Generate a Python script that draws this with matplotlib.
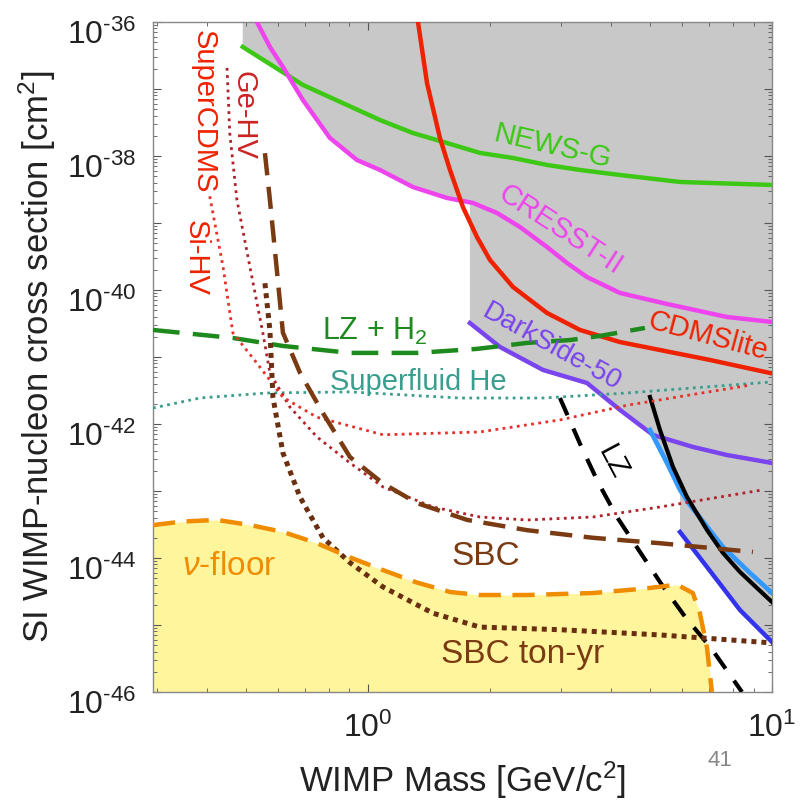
import numpy as np
import matplotlib
matplotlib.use("Agg")
import matplotlib.pyplot as plt
import matplotlib.transforms as mtransforms
from matplotlib.ticker import FixedLocator, FuncFormatter, LogLocator, NullFormatter

plt.rcParams['font.family'] = ['Liberation Sans', 'DejaVu Sans']
plt.rcParams['mathtext.fontset'] = 'custom'
plt.rcParams['mathtext.rm'] = 'Liberation Sans'
plt.rcParams['mathtext.it'] = 'Liberation Sans:italic'

# ---- data (mass in GeV/c^2, cross section in cm^2) ----
newsg_m = [0.490, 0.690, 1.071, 1.292, 1.569, 1.893, 2.285, 2.774, 3.348, 4.205, 5.920, 10.0]
newsg_s = [4.24e-37, 1.15e-37, 3.44e-38, 2.20e-38, 1.56e-38, 1.11e-38, 9.33e-39, 7.34e-39,
           6.18e-39, 5.20e-39, 4.09e-39, 3.69e-39]

cresst_m = [0.531, 0.572, 0.616, 0.690, 0.805, 0.939, 1.071, 1.292, 1.569, 1.820, 2.086,
            2.378, 2.774, 3.109, 3.484, 4.205, 5.497, 7.737, 10.0]
cresst_s = [1.0e-36, 4.24e-37, 2.13e-37, 6.86e-38, 1.86e-38, 8.71e-39, 6.18e-39, 3.44e-39,
            2.36e-39, 1.99e-39, 1.41e-39, 8.71e-40, 4.38e-40, 2.53e-40, 1.56e-40, 9.02e-41,
            6.18e-41, 3.95e-41, 3.33e-41]

cdmslite_m = [1.330, 1.400, 1.507, 1.596, 1.718, 1.861, 2.004, 2.285, 2.774, 3.348, 4.205,
              5.282, 7.024, 9.886]
cdmslite_s = [1.0e-36, 1.23e-37, 1.86e-38, 6.18e-39, 1.73e-39, 6.18e-40, 2.81e-40, 1.11e-40,
              4.54e-41, 2.53e-41, 1.67e-41, 1.27e-41, 9.02e-42, 5.77e-42]

darkside_m = [1.788, 2.122, 2.712, 3.484, 4.205, 5.076, 6.374, 7.737, 10.0]
darkside_s = [3.21e-41, 1.41e-41, 6.40e-42, 4.09e-42, 1.62e-42, 6.86e-43, 4.54e-43, 3.44e-43,
              2.62e-43]

lz_now_m = [4.989, 5.282, 5.689, 6.161, 6.904, 7.561, 8.333, 9.182, 10.0]
lz_now_s = [2.53e-42, 8.12e-43, 2.28e-43, 8.12e-44, 2.62e-44, 1.19e-44, 6.18e-45, 3.56e-45,
            2.20e-45]

blue_light_m = [4.989, 5.497, 5.920, 6.266, 7.561, 8.822, 10.0]
blue_light_s = [8.12e-43, 2.62e-43, 1.04e-43, 6.18e-44, 1.46e-44, 5.97e-45, 3.01e-45]

blue_dark_m = [5.920, 6.904, 8.333, 10.0]
blue_dark_s = [2.44e-44, 7.34e-45, 1.67e-45, 5.57e-46]

lz_m = [2.987, 3.367, 3.709, 4.134, 4.713, 5.343, 6.126, 7.063, 8.097, 8.427]
lz_s = [2.44e-42, 4.70e-43, 1.36e-43, 4.09e-44, 1.23e-44, 3.95e-45, 1.27e-45, 4.54e-46,
        1.41e-46, 1.0e-46]

lzh2_m = [0.2938, 0.463, 0.616, 0.903, 1.322, 1.861, 2.475, 3.162, 3.752, 4.848]
lzh2_s = [2.53e-41, 1.92e-41, 1.46e-41, 1.15e-41, 1.15e-41, 1.32e-41, 1.62e-41, 1.79e-41,
          2.06e-41, 2.71e-41]

he_m = [0.2938, 0.384, 0.562, 0.903, 1.689, 2.712, 4.376, 10.0]
he_s = [1.73e-42, 2.44e-42, 2.90e-42, 3.01e-42, 2.44e-42, 2.44e-42, 2.90e-42, 4.24e-42]

gehv_m = [0.448, 0.455, 0.474, 0.5105, 0.5495, 0.572, 0.641, 0.748, 0.903, 1.089, 1.448,
          1.893, 2.475, 3.605, 5.282, 9.50]
gehv_s = [2.06e-37, 2.20e-38, 2.20e-39, 2.20e-40, 2.28e-41, 5.77e-42, 1.79e-42, 6.40e-43,
          2.62e-43, 1.15e-43, 5.77e-44, 4.09e-44, 3.69e-44, 4.09e-44, 5.77e-44, 1.04e-43]

sihv_m = [0.406, 0.438, 0.463, 0.531, 0.616, 0.748, 1.089, 1.893, 2.99, 4.376, 8.82]
sihv_s = [2.5e-39, 2.2e-40, 2.3e-41, 8.1e-42, 2.5e-42, 1.26e-42, 6.9e-43, 7.6e-43,
          1.15e-42, 1.9e-42, 3.8e-42]

sbc_m = [0.556, 0.572, 0.595, 0.616, 0.679, 0.774, 0.903, 1.089, 1.322, 1.76, 2.475, 3.605,
         5.282, 8.97]
sbc_s = [1.1e-38, 2.2e-39, 2.0e-40, 2.3e-41, 5.8e-42, 1.45e-42, 3.2e-43, 1.3e-43,
         6.6e-44, 3.7e-44, 2.6e-44, 2.0e-44, 1.66e-44, 1.23e-44]

sbcton_m = [0.556, 0.572, 0.582, 0.616, 0.679, 0.774, 0.903, 1.089, 1.448, 1.893, 2.99,
            5.282, 10.0]
sbcton_s = [1.26e-40, 2.5e-41, 2.5e-42, 3.7e-43, 8.1e-44, 2.0e-44, 8.5e-45, 3.7e-45,
            1.5e-45, 9.3e-46, 8.5e-46, 7.1e-46, 5.4e-46]

nu_m = [0.2938, 0.348, 0.423, 0.511, 0.616, 0.748, 0.903, 1.089, 1.322, 1.60, 1.893,
        2.475, 3.605, 4.848, 5.82, 6.37, 6.63, 6.90, 7.10]
nu_s = [3.1e-44, 3.5e-44, 3.7e-44, 3.1e-44, 2.45e-44, 1.66e-44, 1.02e-44, 6.6e-45,
        4.3e-45, 3.1e-45, 2.8e-45, 2.8e-45, 3.0e-45, 3.5e-45, 4.0e-45, 3.0e-45,
        1.5e-45, 4.7e-46, 1.0e-46]

# boundary of the excluded (grey) region, from upper left to right edge
excl_m = [0.490, 0.490, 0.630, 0.690, 0.805, 0.939, 1.071, 1.292, 1.569, 1.788, 1.788,
          2.122, 2.712, 3.484, 4.205, 4.989, 5.497, 5.920, 5.920, 6.904, 8.333, 10.0]
excl_s = [1.0e-36, 4.24e-37, 1.67e-37, 6.86e-38, 1.86e-38, 8.71e-39, 6.18e-39, 3.44e-39,
          2.36e-39, 2.06e-39, 3.21e-41, 1.41e-41, 6.40e-42, 4.09e-42, 1.62e-42, 8.12e-43,
          2.62e-43, 1.04e-43, 2.44e-44, 7.34e-45, 1.67e-45, 5.57e-46]

xmin, xmax = 0.2938, 10.0
ymin, ymax = 1e-46, 1e-36

fig = plt.figure(figsize=(8.0, 8.01), dpi=100)
ax = fig.add_axes([0.19125, 0.1361, 0.77375, 0.8365])
ax.set_xscale('log')
ax.set_yscale('log')
ax.set_xlim(xmin, xmax)
ax.set_ylim(ymin, ymax)

ax.fill(excl_m + [xmax, xmax], excl_s + [ymax, ymax], color='#c8c8c8', lw=0, zorder=1)
ax.fill_between(nu_m, nu_s, ymin, color='#fff59c', lw=0, zorder=1)

ax.plot(newsg_m, newsg_s, color='#3cc814', lw=3.2, zorder=3)
ax.plot(cresst_m, cresst_s, color='#ee44ee', lw=3.2, zorder=3)
ax.plot(cdmslite_m, cdmslite_s, color='#ee2200', lw=3.2, zorder=3)
ax.plot(darkside_m, darkside_s, color='#7a44ee', lw=3.2, zorder=3)
ax.plot(blue_light_m, blue_light_s, color='#3399ff', lw=3.4, zorder=3)
ax.plot(lz_now_m, lz_now_s, color='black', lw=3.0, zorder=4)
ax.plot(blue_dark_m, blue_dark_s, color='#3333ee', lw=3.2, zorder=3)

ax.plot(lz_m, lz_s, color='black', lw=3.0, dashes=(4.5, 3.5), zorder=4)
ax.plot(lzh2_m, lzh2_s, color='#1e8a1e', lw=3.2, dashes=(6, 3), zorder=4)
ax.plot(he_m, he_s, color='#3a9e8e', lw=2.0, ls=(0, (1, 1.6)), zorder=4)
ax.plot(gehv_m, gehv_s, color='#b0222a', lw=2.0, ls=(0, (1, 1.6)), zorder=4)
ax.plot(sihv_m, sihv_s, color='#e8302a', lw=2.0, ls=(0, (1, 1.6)), zorder=4)
ax.plot(sbc_m, sbc_s, color='#7a3a12', lw=3.2, dashes=(5, 2.6), zorder=4)
ax.plot(sbcton_m, sbcton_s, color='#6a2e10', lw=3.6, ls=(0, (1, 1)), zorder=4)
ax.plot(nu_m, nu_s, color='#f08c00', lw=3.2, dashes=(5, 2.6), zorder=4)

# labels inside the plot: text, mass, cross section, colour, angle, size, vertical anchor
labels = [
    ('NEWS-G', 2.871, 1.36e-38, '#3cc814', -13, 21, 'center'),
    ('CRESST-II', 2.987, 7.87e-40, '#ee44ee', -33, 21, 'center'),
    ('CDMSlite', 6.944, 2.06e-41, '#ee2200', -15, 21, 'center'),
    ('DarkSide-50', 2.854, 1.41e-41, '#7a44ee', -29, 20, 'center'),
    ('Superfluid He', 1.334, 3.21e-42, '#3a9e8e', 0, 21, 'baseline'),
    ('LZ', 4.04, 2.71e-43, 'black', -62, 21, 'center'),
    ('SBC', 1.959, 7.87e-45, '#7a3a12', 0, 24, 'baseline'),
    ('SBC ton-yr', 2.413, 2.71e-46, '#7a3a12', 0, 24, 'baseline'),
    (r'$\nu$-floor', 0.454, 5.57e-45, '#f08c00', 0, 24, 'baseline'),
    ('SuperCDMS', 0.393, 4.54e-38, '#ee2200', -90, 21, 'center'),
    ('Ge-HV', 0.493, 4.09e-38, '#cc2222', -90, 21, 'center'),
    ('Si-HV', 0.3753, 3.01e-40, '#ee2200', -90, 21, 'center'),
    (r'LZ + H$_2$', 1.041, 1.79e-41, '#1e8a1e', 0, 22, 'baseline'),
]
for s, xm, ys, c, rot, fs, va in labels:
    ax.text(xm, ys, s, color=c, rotation=rot, fontsize=fs, ha='center', va=va,
            rotation_mode='anchor', zorder=5)

# axes styling
def exp_text(e):
    return r'$10^{%s}$' % (('\u2010%d' % -e) if e < 0 else str(e))

def x_label(v, pos):
    return exp_text(int(round(np.log10(v))))

def y_label(v, pos):
    e = int(round(np.log10(v)))
    return exp_text(e) if e % 2 == 0 else ''

ax.xaxis.set_major_locator(FixedLocator([1, 10]))
ax.xaxis.set_major_formatter(FuncFormatter(x_label))
ax.xaxis.set_minor_locator(LogLocator(base=10, subs=np.arange(2, 10), numticks=20))
ax.xaxis.set_minor_formatter(NullFormatter())

decades = np.arange(-46, -35)
ax.yaxis.set_major_locator(FixedLocator(10.0 ** decades))
ax.yaxis.set_major_formatter(FuncFormatter(y_label))
ax.yaxis.set_minor_locator(LogLocator(base=10, subs=np.arange(2, 10), numticks=30))
ax.yaxis.set_minor_formatter(NullFormatter())

ax.tick_params(which='both', direction='in', top=True, right=True, colors='#555555',
               labelcolor='#222222')
ax.tick_params(which='major', length=6, width=0.8, labelsize=23)
ax.tick_params(axis='y', which='major', pad=12)
ax.tick_params(axis='x', which='major', pad=15)
ax.tick_params(which='minor', length=3, width=0.6)
for sp in ax.spines.values():
    sp.set_color('#888888')
    sp.set_linewidth(1.0)

shift = mtransforms.ScaledTranslation(0, -7 / 72, fig.dpi_scale_trans)
for lab in ax.get_yticklabels():
    lab.set_transform(lab.get_transform() + shift)

ax.set_xlabel(r'WIMP Mass [GeV/c$^2$]', fontsize=25, color='#222222', labelpad=11)
ax.set_ylabel(r'SI WIMP-nucleon cross section [cm$^2$]', fontsize=25, color='#222222',
              labelpad=6)

fig.text(0.9, 0.051, '41', color='#888888', fontsize=16, ha='center', va='center')

fig.savefig('out.png', dpi=100)
